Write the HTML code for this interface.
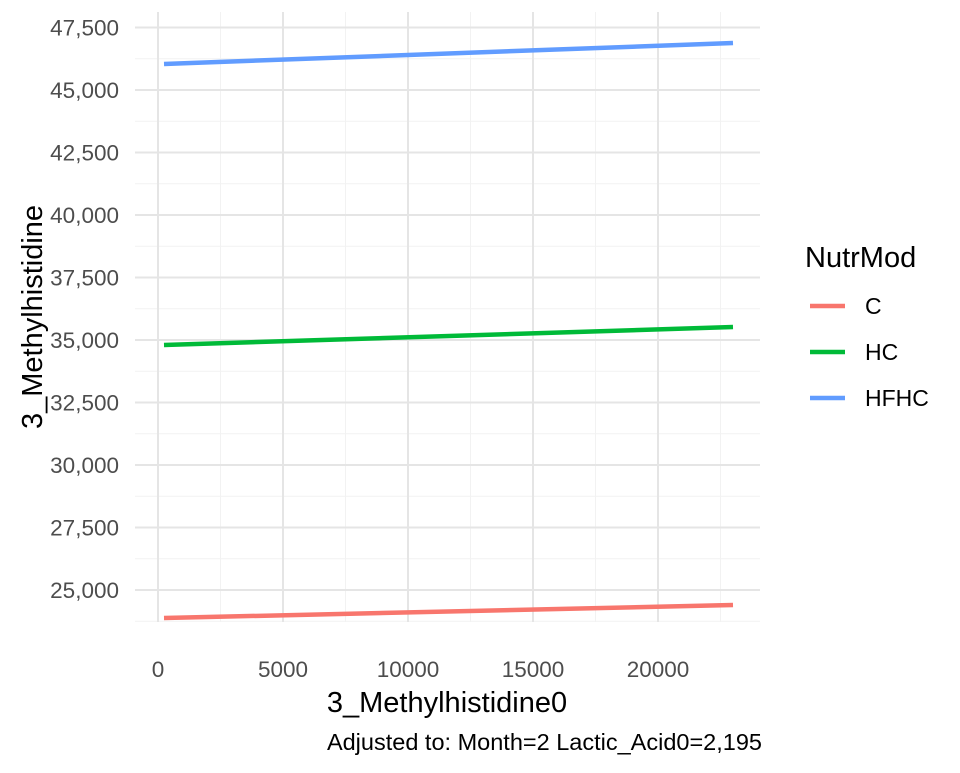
<!DOCTYPE html>
<html><head><meta charset="utf-8"><style>
body{margin:0;background:#fff;}
svg text{font-family:"Liberation Sans",Arial,sans-serif;}
</style></head><body>
<svg id="chart" width="960" height="768" xmlns="http://www.w3.org/2000/svg">
<g id="grid"></g><g id="series"></g><g id="axes"></g><g id="legend"></g>
<text x="762" y="750" text-anchor="end" font-size="23.5" fill="#000">Adjusted to: Month=2 Lactic_Acid0=2,195</text>
<text x="447" y="712" text-anchor="middle" font-size="29" fill="#000">3_Methylhistidine0</text>
<text transform="translate(42,317) rotate(-90)" text-anchor="middle" font-size="29" fill="#000">3_Methylhistidine</text>
</svg>
<script>
const xTicks=[0,5000,10000,15000,20000];
const yTicks=[25000,27500,30000,32500,35000,37500,40000,42500,45000,47500];
const seriesNames=["C","HC","HFHC"];
const seriesColors=["#F8766D","#00BA38","#619CFF"];
const xStart=[240,240,240];
const xEnd=[23000,23000,23000];
const yStart=[23880,34800,46040];
const yEnd=[24400,35520,46880];
const NS="http://www.w3.org/2000/svg";
const L=135,R=760,T=12,B=622;
const X=v=>158+v*0.025;
const Y=v=>590-(v-25000)*0.025;
function mk(tag,attrs,parent){const e=document.createElementNS(NS,tag);for(const k in attrs)e.setAttribute(k,attrs[k]);parent.appendChild(e);return e;}
const grid=document.getElementById('grid'),axes=document.getElementById('axes'),ser=document.getElementById('series'),leg=document.getElementById('legend');
for(let i=0;i<yTicks.length;i++){const v=yTicks[i]-1250;const yy=Y(v);if(yy>T&&yy<B){const l=mk('line',{x1:L,x2:R,y1:yy,y2:yy,stroke:'#f2f2f2','stroke-width':1},grid);

}}
for(let i=0;i<=xTicks.length;i++){const v=(xTicks[0]-2500)+i*5000;const xx=X(v);if(xx>L&&xx<R){const l=mk('line',{x1:xx,x2:xx,y1:T,y2:B,stroke:'#f2f2f2','stroke-width':1},grid);

}}
yTicks.forEach(v=>{const yy=Y(v);const l=mk('line',{x1:L,x2:R,y1:yy,y2:yy,stroke:'#e5e5e5','stroke-width':2},grid);


const t=mk('text',{x:119,y:yy+8,'text-anchor':'end','font-size':22.5,fill:'#4d4d4d'},axes);t.textContent=v.toLocaleString('en-US');

});
xTicks.forEach(v=>{const xx=X(v);const l=mk('line',{x1:xx,x2:xx,y1:T,y2:B,stroke:'#e5e5e5','stroke-width':2},grid);


const t=mk('text',{x:xx,y:677,'text-anchor':'middle','font-size':22.5,fill:'#4d4d4d'},axes);t.textContent=String(v);

});
seriesNames.forEach((n,i)=>{const l=mk('line',{x1:X(xStart[i]),y1:Y(yStart[i]),x2:X(xEnd[i]),y2:Y(yEnd[i]),stroke:seriesColors[i],'stroke-width':4.5},ser);


const ly=306+i*46;
const s=mk('line',{x1:810,x2:845,y1:ly,y2:ly,stroke:seriesColors[i],'stroke-width':4.5},leg);


const t=mk('text',{x:865,y:ly+8,'font-size':23,fill:'#000'},leg);t.textContent=n;

});
const lt=mk('text',{x:805,y:267,'font-size':29,fill:'#000'},leg);lt.textContent='NutrMod';


</script>
</body></html>
